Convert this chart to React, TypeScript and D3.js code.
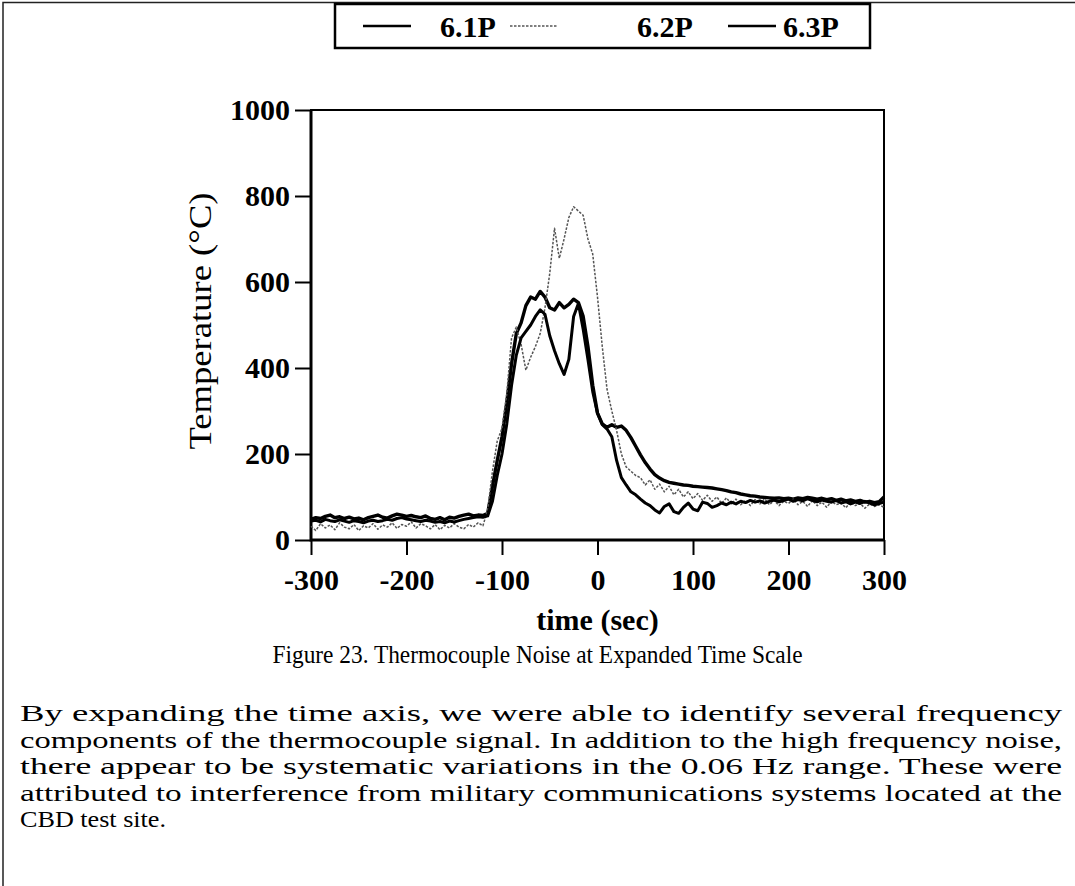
import { useEffect, useRef } from 'react';
import * as d3 from 'd3';

// sampling grid, seconds
const times = d3.range(-300, 301, 5);

// thermocouple 6.1P (°C), one value per 5 s from -300 to 300
const temp61 = [
  48, 52, 50, 55, 58, 52, 54, 50, 53, 49,
  51, 47, 52, 55, 58, 53, 51, 56, 60, 58,
  55, 57, 54, 52, 56, 50, 48, 52, 47, 53,
  51, 55, 58, 60, 56, 58, 57, 62, 125, 185,
  240, 320, 410, 480, 505, 545, 565, 560, 578, 565,
  540, 535, 552, 540, 548, 560, 552, 520, 450, 360,
  295, 270, 262, 268, 262, 265, 255, 238, 218, 198,
  180, 165, 152, 144, 138, 134, 132, 130, 128, 127,
  125, 124, 123, 122, 121, 119, 117, 115, 112, 110,
  107, 105, 103, 102, 100, 99, 98, 97, 98, 96,
  97, 95, 98, 96, 99, 97, 95, 97, 94, 96,
  92, 95, 91, 93, 90, 92, 88, 90, 87, 89,
  100,
];

// thermocouple 6.2P (°C)
const temp62 = [
  32, 22, 38, 28, 35, 24, 40, 30, 26, 36,
  22, 33, 28, 38, 25, 35, 30, 40, 27, 36,
  32, 42, 28, 38, 33, 26, 36, 24, 34, 28,
  38, 30, 26, 36, 30, 40, 33, 70, 160, 230,
  260, 340, 470, 495, 455, 395, 425, 450, 480, 540,
  620, 725, 655, 700, 750, 775, 765, 755, 700, 665,
  565, 450, 350, 300, 255, 200, 170, 160, 150, 145,
  128, 140, 118, 130, 112, 125, 105, 118, 100, 112,
  96, 108, 92, 104, 90, 100, 85, 98, 84, 95,
  82, 92, 80, 94, 84, 96, 82, 92, 80, 90,
  85, 95, 82, 90, 78, 92, 80, 88, 76, 90,
  82, 86, 75, 88, 80, 85, 74, 84, 78, 82,
  76,
];

// thermocouple 6.3P (°C)
const temp63 = [
  44, 46, 42, 48, 45, 43, 47, 44, 41, 45,
  43, 40, 44, 46, 43, 45, 48, 46, 50, 52,
  49, 47, 45, 43, 46, 44, 41, 43, 40, 44,
  42, 45, 48, 50, 52, 54, 53, 56, 90, 150,
  200, 270, 360, 430, 470, 485, 500, 520, 535, 525,
  475, 440, 410, 385, 420, 520, 550, 490, 420, 345,
  295, 268, 258, 240, 185, 145, 128, 112, 105, 95,
  86, 80, 70, 63, 78, 84, 66, 62, 76, 86,
  72, 68, 88, 85, 76, 80, 86, 82, 88, 84,
  90, 87, 92, 88, 91, 86, 90, 93, 89, 92,
  95, 90, 94, 91, 96, 92, 89, 93, 90, 88,
  92, 86, 89, 84, 88, 85, 90, 86, 82, 85,
  88,
];

const xTicks = [-300, -200, -100, 0, 100, 200, 300];
const yTicks = [0, 200, 400, 600, 800, 1000];
const seriesNames = ['6.1P', '6.2P', '6.3P'];

const caption = 'Figure 23. Thermocouple Noise at Expanded Time Scale';
const paragraph = [
  'By expanding the time axis, we were able to identify several frequency',
  'components of the thermocouple signal. In addition to the high frequency noise,',
  'there appear to be systematic variations in the 0.06 Hz range. These were',
  'attributed to interference from military communications systems located at the',
  'CBD test site.',
];

const W = 1075;
const H = 886;
const serif = '"Liberation Serif", "Times New Roman", serif';

export default function App() {
  const ref = useRef<SVGSVGElement>(null);

  useEffect(() => {
    if (!ref.current) return;
    const svg = d3.select(ref.current);
    svg.selectAll('*').remove();

    const margin = { top: 110, right: 191, bottom: 346, left: 311 };
    const width = W - margin.left - margin.right;
    const height = H - margin.top - margin.bottom;

    const x = d3.scaleLinear().domain([-300, 300]).range([0, width]);
    const y = d3.scaleLinear().domain([0, 1000]).range([height, 0]);

    // page frame
    svg.append('path')
      .attr('d', `M3,${H} L3,2.5 L${W},2.5`)
      .attr('fill', 'none')
      .attr('stroke', '#222')
      .attr('stroke-width', 1.5);

    const g = svg.append('g')
      .attr('transform', `translate(${margin.left},${margin.top})`);

    // axes
    const xAxis = g.append('g')
      .attr('transform', `translate(0,${height})`)
      .call(d3.axisBottom(x).tickValues(xTicks).tickSize(15).tickPadding(14).tickFormat(d3.format('d')));
    const yAxis = g.append('g')
      .call(d3.axisLeft(y).tickValues(yTicks).tickSize(16).tickPadding(5).tickFormat(d3.format('d')));

    [xAxis, yAxis].forEach(a => {
      a.select('.domain').remove();
      a.selectAll('line').attr('stroke', '#000').attr('stroke-width', 2);
      a.selectAll('text')
        .attr('fill', '#000')
        .style('font-family', serif)
        .style('font-weight', 'bold')
        .style('font-size', '30px');
    });
    xAxis.selectAll('text').text(d => String(d).replace('−', '-'));

    // plot frame
    g.append('rect')
      .attr('width', width)
      .attr('height', height)
      .attr('fill', 'none')
      .attr('stroke', '#000')
      .attr('stroke-width', 2);
    g.append('path')
      .attr('d', `M0,0 L0,${height} L${width},${height}`)
      .attr('fill', 'none')
      .attr('stroke', '#000')
      .attr('stroke-width', 3);

    // series
    const styles = [
      { values: temp61, color: '#000', width: 3.4, dash: null },
      { values: temp62, color: '#555', width: 1.5, dash: '2.5,1.5' },
      { values: temp63, color: '#000', width: 3, dash: null },
    ];
    const line = d3.line<number>()
      .x((_, i) => x(times[i]))
      .y(d => y(d));

    styles.forEach(s => {
      g.append('path')
        .datum(s.values)
        .attr('fill', 'none')
        .attr('stroke', s.color)
        .attr('stroke-width', s.width)
        .attr('stroke-linejoin', 'round')
        .attr('stroke-dasharray', s.dash)
        .attr('d', line);
    });

    // axis titles
    g.append('text')
      .attr('x', width / 2)
      .attr('y', height + 90)
      .attr('text-anchor', 'middle')
      .style('font-family', serif)
      .style('font-weight', 'bold')
      .style('font-size', '30px')
      .text('time (sec)');

    g.append('text')
      .attr('transform', `translate(${-100},${height / 2 - 4}) rotate(-90)`)
      .attr('text-anchor', 'middle')
      .attr('textLength', 257)
      .attr('lengthAdjust', 'spacingAndGlyphs')
      .style('font-family', serif)
      .style('font-size', '31px')
      .text('Temperature (°C)');

    // legend
    const legend = svg.append('g');
    legend.append('rect')
      .attr('x', 335)
      .attr('y', 4)
      .attr('width', 535)
      .attr('height', 44)
      .attr('fill', '#fff')
      .attr('stroke', '#000')
      .attr('stroke-width', 2.5);
    const legendX = [363, 510, 728];
    const textX = [440, 637, 783];
    seriesNames.forEach((name, i) => {
      const s = styles[i];
      legend.append('line')
        .attr('x1', legendX[i])
        .attr('x2', legendX[i] + 48)
        .attr('y1', 26)
        .attr('y2', 26)
        .attr('stroke', s.color)
        .attr('stroke-width', i === 1 ? 1.4 : 2.5)
        .attr('stroke-dasharray', s.dash);
      legend.append('text')
        .attr('x', textX[i])
        .attr('y', 37)
        .style('font-family', serif)
        .style('font-weight', 'bold')
        .style('font-size', '30px')
        .text(name);
    });

    // caption and body text
    svg.append('text')
      .attr('x', W / 2)
      .attr('y', 663)
      .attr('text-anchor', 'middle')
      .attr('textLength', 530)
      .attr('lengthAdjust', 'spacingAndGlyphs')
      .style('font-family', serif)
      .style('font-size', '25px')
      .text(caption);

    const lineLengths = [1042, 1042, 1042, 1042, 146];
    paragraph.forEach((t, i) => {
      svg.append('text')
        .attr('x', 20)
        .attr('y', 721 + i * 26.5)
        .attr('textLength', lineLengths[i])
        .attr('lengthAdjust', 'spacingAndGlyphs')
        .style('font-family', serif)
        .style('font-size', '24px')
        .text(t);
    });
  }, []);

  return (
    <svg
      ref={ref}
      width={W}
      height={H}
      style={{ position: 'absolute', left: 0, top: 0, background: '#fff' }}
    />
  );
}
